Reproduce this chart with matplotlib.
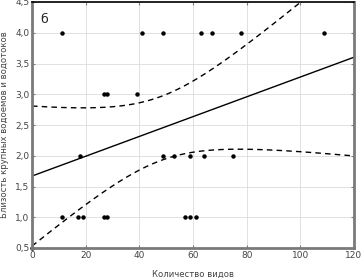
import numpy as np
import matplotlib.pyplot as plt
from matplotlib.ticker import FuncFormatter

# points (x = number of species, y = proximity score)
species = [0, 11, 17, 19, 27, 28, 57, 59, 61,
           18, 49, 53, 59, 64, 75,
           27, 28, 39,
           11, 41, 49, 63, 67, 78, 109]
proximity = [0.5, 1, 1, 1, 1, 1, 1, 1, 1,
             2, 2, 2, 2, 2, 2,
             3, 3, 3,
             4, 4, 4, 4, 4, 4, 4]
x_ticks = [0, 20, 40, 60, 80, 100, 120]
y_ticks = [0.5, 1.0, 1.5, 2.0, 2.5, 3.0, 3.5, 4.0, 4.5]

# regression line and 95% band
fit_intercept = 1.67
fit_slope = 0.0161
band_center = 48.0   # x where the band is narrowest
band_min = 0.52      # half width there
band_growth = 0.0211 # half width growth per unit x far from center

xs = np.linspace(0, 120, 300)
fit = fit_intercept + fit_slope * xs
hw = np.sqrt(band_min ** 2 + (band_growth * (xs - band_center)) ** 2)

gray = '#7a7a7a'
plt.rcParams['font.family'] = 'DejaVu Sans'
fig = plt.figure(figsize=(3.61, 2.78), dpi=100)
ax = fig.add_axes([32 / 361, 30 / 278, 322 / 361, 246 / 278])

ax.grid(True, color='#dcdcdc', linewidth=0.6)
ax.set_axisbelow(True)
ax.plot(xs, fit, color='black', linewidth=1.0)
ax.plot(xs, fit + hw, color='black', linewidth=1.0, dashes=(4, 3))
ax.plot(xs, fit - hw, color='black', linewidth=1.0, dashes=(4, 3))
ax.plot(species, proximity, 'o', color='black', markersize=2.2, clip_on=False)

ax.set_xlim(0, 120)
ax.set_ylim(0.5, 4.5)
ax.set_xticks(x_ticks)
ax.set_yticks(y_ticks)
ax.yaxis.set_major_formatter(FuncFormatter(lambda v, p: f'{v:.1f}'.replace('.', ',')))
ax.tick_params(labelsize=6.5, labelcolor='#444444', color=gray, length=2, width=0.8,
               direction='in', top=True, right=True, pad=2)

for side in ['left', 'right', 'bottom']:
    ax.spines[side].set_color(gray)
    ax.spines[side].set_linewidth(2.0)
ax.spines['top'].set_color('black')
ax.spines['top'].set_linewidth(1.2)

ax.set_xlabel('Количество видов', fontsize=6.1, color='#444444', labelpad=7)
ax.set_ylabel('Близость крупных водоемов и водотоков', fontsize=6.1, color='#444444', labelpad=4)
ax.text(0.025, 0.915, 'б', transform=ax.transAxes, fontsize=9, color='#222222')

fig.savefig('out.png', dpi=100)
